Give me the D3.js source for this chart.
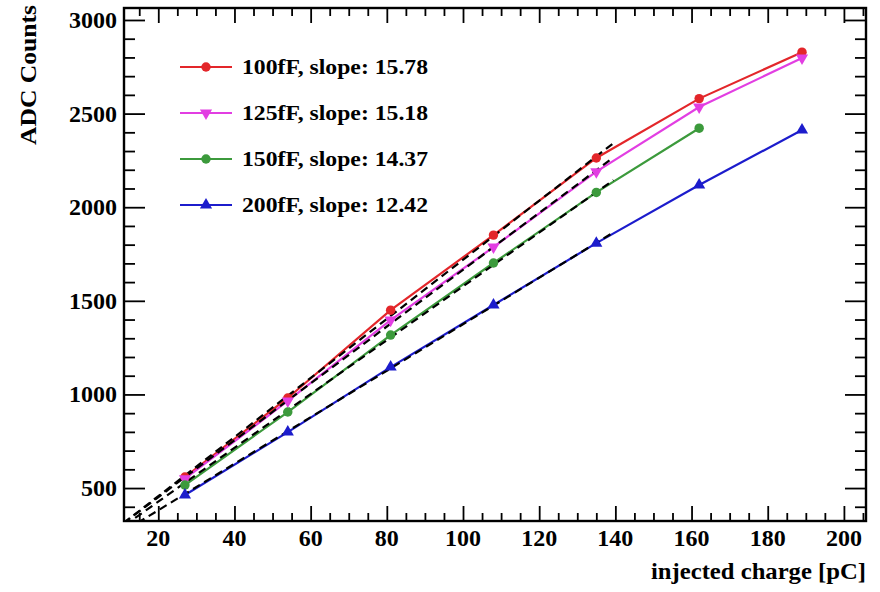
<!DOCTYPE html>
<html>
<head>
<meta charset="utf-8">
<script src="https://cdn.jsdelivr.net/npm/d3@7"></script>
<style>
  html, body { margin: 0; padding: 0; background: #fff; }
  svg text { font-family: "Liberation Serif", "DejaVu Serif", serif; font-weight: bold; fill: #000; }
</style>
</head>
<body>
<svg id="chart" width="880" height="592"></svg>
<script>
// Injected charge points (pC)
const charge = [27, 54, 81, 108, 135, 162, 189];

// ADC response per feedback capacitance
const adc100 = [559, 981, 1450, 1851, 2263, 2580, 2828];
const adc125 = [550, 965, 1397, 1787, 2190, 2535, 2797];
const adc150 = [516, 906, 1317, 1702, 2079, 2422];
const adc200 = [463, 799, 1146, 1478, 1808, 2119, 2412];

// Linear fit results (slope, intercept) and the range the fits are drawn over
const seriesNames = ["100fF", "125fF", "150fF", "200fF"];
const fitSlopes = [15.78, 15.18, 14.37, 12.42];
const fitIntercepts = [141, 148, 140, 133];
const fitRange = [0, 139.5];

const seriesColors = ["#e3262a", "#e23ee2", "#3c9a3c", "#1c1ccc"];
const seriesMarkers = ["circle", "triangleDown", "circle", "triangleUp"];

const xTicks = [20, 40, 60, 80, 100, 120, 140, 160, 180, 200];
const yTicks = [500, 1000, 1500, 2000, 2500, 3000];

const svg = d3.select("#chart");
const frame = { left: 124, right: 866, top: 8, bottom: 521 };

const x = d3.scaleLinear().domain([11.0, 205.8]).range([frame.left, frame.right]);
const y = d3.scaleLinear().domain([324, 3064]).range([frame.bottom, frame.top]);

svg.append("defs").append("clipPath").attr("id", "plotClip")
  .append("rect")
  .attr("x", frame.left).attr("y", frame.top)
  .attr("width", frame.right - frame.left).attr("height", frame.bottom - frame.top);

// ---- axes: ticks on all four sides, ROOT style ----
const xMinor = d3.range(15, 206, 5).filter(v => v % 20 !== 0);
const yMinor = d3.range(400, 3064, 100).filter(v => v % 500 !== 0);

const axisStyle = g => {
  g.select(".domain").remove();
  g.selectAll(".tick line").attr("stroke", "#000").attr("stroke-width", 1.8);
};

svg.append("g").attr("transform", `translate(0,${frame.bottom})`)
  .call(d3.axisTop(x).tickValues(xTicks).tickSize(15).tickFormat(""))
  .call(axisStyle);
svg.append("g").attr("transform", `translate(0,${frame.bottom})`)
  .call(d3.axisTop(x).tickValues(xMinor).tickSize(8).tickFormat(""))
  .call(axisStyle);
svg.append("g").attr("transform", `translate(0,${frame.top})`)
  .call(d3.axisBottom(x).tickValues(xTicks).tickSize(15).tickFormat(""))
  .call(axisStyle);
svg.append("g").attr("transform", `translate(0,${frame.top})`)
  .call(d3.axisBottom(x).tickValues(xMinor).tickSize(8).tickFormat(""))
  .call(axisStyle);

svg.append("g").attr("transform", `translate(${frame.left},0)`)
  .call(d3.axisRight(y).tickValues(yTicks).tickSize(21).tickFormat(""))
  .call(axisStyle);
svg.append("g").attr("transform", `translate(${frame.left},0)`)
  .call(d3.axisRight(y).tickValues(yMinor).tickSize(11).tickFormat(""))
  .call(axisStyle);
svg.append("g").attr("transform", `translate(${frame.right},0)`)
  .call(d3.axisLeft(y).tickValues(yTicks).tickSize(21).tickFormat(""))
  .call(axisStyle);
svg.append("g").attr("transform", `translate(${frame.right},0)`)
  .call(d3.axisLeft(y).tickValues(yMinor).tickSize(11).tickFormat(""))
  .call(axisStyle);

// tick labels
svg.append("g").selectAll("text").data(xTicks).join("text")
  .attr("x", d => x(d)).attr("y", 546)
  .attr("text-anchor", "middle")
  .style("font-size", "24px")
  .text(d => d);
svg.append("g").selectAll("text").data(yTicks).join("text")
  .attr("x", 117).attr("y", d => y(d) + 8)
  .attr("text-anchor", "end")
  .style("font-size", "24px")
  .text(d => d);

// frame
svg.append("rect")
  .attr("x", frame.left).attr("y", frame.top)
  .attr("width", frame.right - frame.left).attr("height", frame.bottom - frame.top)
  .attr("fill", "none").attr("stroke", "#000").attr("stroke-width", 2.4);

// axis titles
svg.append("text")
  .attr("x", 651).attr("y", 579)
  .attr("textLength", 215).attr("lengthAdjust", "spacingAndGlyphs")
  .style("font-size", "23px")
  .text("injected charge [pC]");
svg.append("text")
  .attr("transform", "translate(36,145) rotate(-90)")
  .attr("textLength", 140).attr("lengthAdjust", "spacingAndGlyphs")
  .style("font-size", "23px")
  .text("ADC Counts");

// ---- data ----
const seriesValues = [adc100, adc125, adc150, adc200];
const series = seriesNames.map((name, i) => ({
  name,
  color: seriesColors[i],
  marker: seriesMarkers[i],
  slope: fitSlopes[i],
  intercept: fitIntercepts[i],
  points: seriesValues[i].map((v, j) => ({ q: charge[j], v }))
}));

const plot = svg.append("g").attr("clip-path", "url(#plotClip)");
const line = d3.line().x(d => x(d.q)).y(d => y(d.v));

plot.selectAll("path.data").data(series).join("path")
  .attr("class", "data")
  .attr("d", s => line(s.points))
  .attr("fill", "none")
  .attr("stroke", s => s.color)
  .attr("stroke-width", 2.2);

// fitted straight lines
plot.selectAll("path.fit").data(series).join("path")
  .attr("class", "fit")
  .attr("d", s => line(fitRange.map(q => ({ q, v: s.intercept + s.slope * q }))))
  .attr("fill", "none")
  .attr("stroke", "#000")
  .attr("stroke-width", 2.2)
  .attr("stroke-dasharray", "8,5");

const symbolFor = m => {
  if (m === "circle") return d3.symbol(d3.symbolCircle, 70)();
  return d3.symbol(d3.symbolTriangle, 64)();
};
const markerRotation = m => (m === "triangleDown" ? 180 : 0);

series.forEach(s => {
  plot.append("g").selectAll("path").data(s.points).join("path")
    .attr("d", symbolFor(s.marker))
    .attr("transform", d => `translate(${x(d.q)},${y(d.v)}) rotate(${markerRotation(s.marker)})`)
    .attr("fill", s.color);
});

// ---- legend ----
const legendY = d3.scaleLinear().domain([0, 3]).range([67, 205]);
const legend = svg.append("g");
series.forEach((s, i) => {
  const ly = legendY(i);
  legend.append("line")
    .attr("x1", 180).attr("x2", 232).attr("y1", ly).attr("y2", ly)
    .attr("stroke", s.color).attr("stroke-width", 2.2);
  legend.append("path")
    .attr("d", symbolFor(s.marker))
    .attr("transform", `translate(206,${ly}) rotate(${markerRotation(s.marker)})`)
    .attr("fill", s.color);
  legend.append("text")
    .attr("x", 242).attr("y", ly + 7)
    .attr("textLength", 186).attr("lengthAdjust", "spacingAndGlyphs")
    .style("font-size", "21px")
    .text(`${s.name}, slope: ${s.slope.toFixed(2)}`);
});
</script>
</body>
</html>
